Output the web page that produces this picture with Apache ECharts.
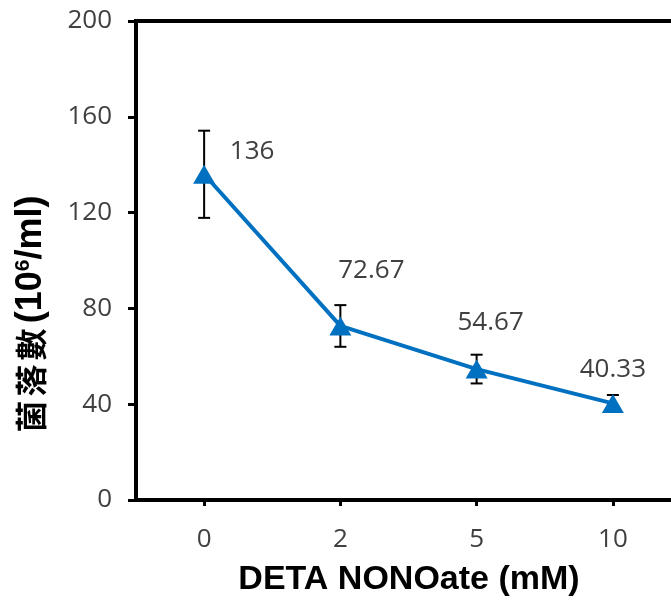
<!DOCTYPE html>
<html>
<head>
<meta charset="utf-8">
<script src="https://cdn.jsdelivr.net/npm/echarts@6/dist/echarts.min.js"></script>
<style>
  html, body { margin: 0; padding: 0; background: #fff; }
  #main { width: 671px; height: 605px; }
</style>
</head>
<body>
<div id="main"></div>
<script>
// concentration categories (mM) and colony counts
var doses = ['0', '2', '5', '10'];
var counts = [136, 72.67, 54.67, 40.33];
var errs = [18.2, 8.7, 6, 3.5];
var yTicks = { min: 0, max: 200, step: 40 };

var chart = echarts.init(document.getElementById('main'));

var labelOffsets = [[48, -23], [31, -55], [14, -46], [0, -34]];
var lineData = counts.map(function (v, i) {
  return {
    value: v,
    label: { offset: labelOffsets[i] }
  };
});
var errData = counts.map(function (v, i) {
  return [i, v - errs[i], v + errs[i]];
});

var tickFont = { color: '#404040', fontSize: 26, fontFamily: 'Open Sans' };
var cjk = { fontSize: 32, fontWeight: 'bold', fontFamily: 'Noto Sans CJK TC', fill: '#000', padding: [0, 2] };

var option = {
  animation: false,
  grid: {
    left: 136, width: 545, top: 21, bottom: 105,
    outerBoundsMode: 'none',
    show: true, borderColor: '#000', borderWidth: 4, backgroundColor: 'transparent'
  },
  xAxis: {
    type: 'category',
    data: doses,
    boundaryGap: true,
    axisLine: { lineStyle: { color: '#000', width: 4 } },
    axisTick: { show: true, alignWithLabel: true, length: 6, lineStyle: { color: '#000', width: 3 } },
    axisLabel: Object.assign({ margin: 27 }, tickFont),
    splitLine: { show: false }
  },
  yAxis: {
    type: 'value',
    min: yTicks.min, max: yTicks.max, interval: yTicks.step,
    axisLine: { show: true, lineStyle: { color: '#000', width: 4 } },
    axisTick: { show: true, length: 8, lineStyle: { color: '#000', width: 3 } },
    axisLabel: Object.assign({ margin: 24 }, tickFont),
    splitLine: { show: false }
  },
  graphic: [{
    type: 'text',
    x: 31, y: 315,
    rotation: Math.PI / 2,
    style: {
      text: '{c|菌}{c|落}{c|數} {a|(10}{s|6}{a|/ml)}',
      align: 'center',
      verticalAlign: 'middle',
      rich: {
        c: cjk,
        a: { fontSize: 36, fontWeight: 'bold', fontFamily: 'Liberation Sans', fill: '#000' },
        s: { fontSize: 21, fontWeight: 'bold', fontFamily: 'Liberation Sans', fill: '#000', verticalAlign: 'top' }
      }
    }
  }, {
    type: 'text',
    x: 409, y: 580,
    style: {
      text: 'DETA NONOate (mM)',
      align: 'center',
      verticalAlign: 'middle',
      fontSize: 34, fontWeight: 'bold', fontFamily: 'Liberation Sans', fill: '#000'
    }
  }],
  series: [{
    type: 'custom',
    z: 1,
    data: errData,
    renderItem: function (params, api) {
      var lo = api.coord([api.value(0), api.value(1)]);
      var hi = api.coord([api.value(0), api.value(2)]);
      var w = 6;
      var st = { stroke: '#000', lineWidth: 2 };
      return {
        type: 'group',
        children: [
          { type: 'line', shape: { x1: lo[0], y1: lo[1], x2: hi[0], y2: hi[1] }, style: st },
          { type: 'line', shape: { x1: lo[0] - w, y1: lo[1], x2: lo[0] + w, y2: lo[1] }, style: st },
          { type: 'line', shape: { x1: hi[0] - w, y1: hi[1], x2: hi[0] + w, y2: hi[1] }, style: st }
        ]
      };
    }
  }, {
    type: 'line',
    z: 3,
    data: lineData,
    symbol: 'triangle',
    symbolSize: [22, 19],
    lineStyle: { color: '#0070C0', width: 4 },
    itemStyle: { color: '#0070C0' },
    label: {
      show: true,
      position: 'inside',
      color: '#404040', fontSize: 26, fontFamily: 'Open Sans'
    }
  }]
};
chart.setOption(option);
</script>
</body>
</html>
